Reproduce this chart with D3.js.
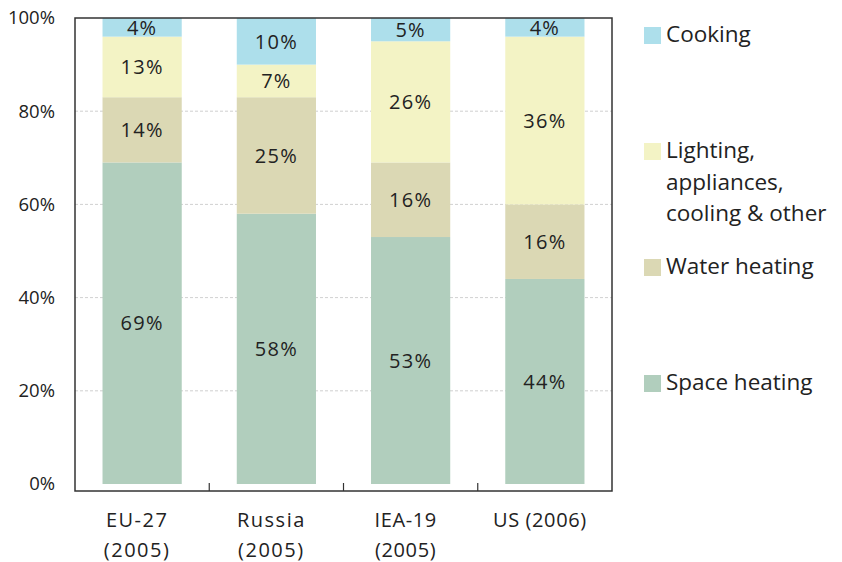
<!DOCTYPE html>
<html lang="en">
<head>
  <meta charset="utf-8" />
  <title>Residential energy end-use shares</title>
  <style>
    body {
      margin: 0;
      background: #ffffff;
      font-family: 'Open Sans', 'Noto Sans', sans-serif;
    }
    svg { display: block; }
    .grid line {
      stroke: #c4c4c4;
      stroke-dasharray: 3,2;
      stroke-width: 0.8px;
    }
    .tick-label, .cat-label, .seg-label, .legend text {
      fill: #222;
    }
  </style>
</head>
<body>
<div id="chart"></div>
<script src="https://d3js.org/d3.v7.min.js"></script>
<script>
// ---------------- data ----------------
const categories = ["EU-27 (2005)", "Russia (2005)", "IEA-19 (2005)", "US (2006)"];
const categoryLines = [["EU-27", "(2005)"], ["Russia", "(2005)"], ["IEA-19", "(2005)"], ["US (2006)"]];
const series = ["Space heating", "Water heating", "Lighting, appliances, cooling & other", "Cooking"];
const spaceHeating = [69, 58, 53, 44];
const waterHeating = [14, 25, 16, 16];
const lighting     = [13, 7, 26, 36];
const cooking      = [4, 10, 5, 4];
const yTicks = [0, 20, 40, 60, 80, 100];

const colors = ["#b1cebd", "#dbd8b4", "#f3f3c5", "#addfeb"];

// ---------------- layout ----------------
const width = 842, height = 562;
const left = 75, right = 612, y0 = 484, y100 = 18, frameBottom = 491;

const svg = d3.select("#chart").append("svg")
  .attr("width", width)
  .attr("height", height);

const x = d3.scaleBand()
  .domain(categories)
  .range([left, right])
  .paddingInner(0.41)
  .paddingOuter(0.205);

const y = d3.scaleLinear().domain([0, 100]).range([y0, y100]);

// gridlines
svg.append("g").attr("class", "grid")
  .selectAll("line")
  .data(yTicks.filter(t => t > 0 && t < 100))
  .join("line")
  .attr("x1", left).attr("x2", right)
  .attr("y1", d => y(d)).attr("y2", d => y(d));

// stacked data
const rows = categories.map((c, i) => ({
  cat: c,
  "Space heating": spaceHeating[i],
  "Water heating": waterHeating[i],
  "Lighting, appliances, cooling & other": lighting[i],
  "Cooking": cooking[i]
}));
const stacked = d3.stack().keys(series)(rows);

const layers = svg.append("g").selectAll("g")
  .data(stacked)
  .join("g")
  .attr("fill", (d, i) => colors[i]);

layers.selectAll("rect")
  .data(d => d)
  .join("rect")
  .attr("x", d => x(d.data.cat))
  .attr("width", x.bandwidth())
  .attr("y", d => y(d[1]))
  .attr("height", d => y(d[0]) - y(d[1]));

layers.selectAll("text")
  .data(d => d)
  .join("text")
  .attr("class", "seg-label")
  .attr("x", d => x(d.data.cat) + x.bandwidth() / 2)
  .attr("y", d => (y(d[0]) + y(d[1])) / 2)
  .attr("dy", "0.36em")
  .attr("text-anchor", "middle")
  .style("font-size", "20px")
  .style("letter-spacing", "1.2px")
  .text(d => (d[1] - d[0]) + "%");

// frame
svg.append("rect")
  .attr("x", left).attr("y", y100)
  .attr("width", right - left).attr("height", frameBottom - y100)
  .attr("fill", "none")
  .attr("stroke", "#333")
  .attr("stroke-width", 1.5);

// bottom ticks at band boundaries (pointing up)
const step = x.step();
svg.append("g").selectAll("line")
  .data(d3.range(1, categories.length))
  .join("line")
  .attr("x1", i => left + i * step).attr("x2", i => left + i * step)
  .attr("y1", frameBottom).attr("y2", frameBottom - 8)
  .attr("stroke", "#333").attr("stroke-width", 1.2);

// y axis labels
const yAxis = d3.axisLeft(y).tickValues(yTicks).tickFormat(d => d + "%").tickSize(0).tickPadding(0);
const yG = svg.append("g").attr("transform", `translate(55,0)`).call(yAxis);
yG.select(".domain").remove();
yG.selectAll("text")
  .attr("class", "tick-label")
  .attr("fill", "#222")
  .style("font-family", "'Open Sans', sans-serif")
  .style("font-size", "18.5px");

// category labels
const catG = svg.append("g").selectAll("text")
  .data(categories)
  .join("text")
  .attr("class", "cat-label")
  .attr("text-anchor", "middle")
  .style("font-size", "20px")
  .style("letter-spacing", (d, i) => i < 2 ? "1.5px" : "0.6px");

catG.selectAll("tspan")
  .data((d, i) => categoryLines[i].map(t => ({ t, c: d })))
  .join("tspan")
  .attr("x", d => x(d.c) + x.bandwidth() / 2 - 5)
  .attr("y", (d, j) => 527 + j * 30)
  .text(d => d.t);

// legend
const legendItems = [
  { key: "Cooking", lines: ["Cooking"], y: 27 },
  { key: "Lighting", lines: ["Lighting,", "appliances,", "cooling & other"], y: 143 },
  { key: "Water heating", lines: ["Water heating"], y: 259 },
  { key: "Space heating", lines: ["Space heating"], y: 375 }
];
const legendColors = [colors[3], colors[2], colors[1], colors[0]];

const lg = svg.append("g").attr("class", "legend")
  .selectAll("g")
  .data(legendItems)
  .join("g");

lg.append("rect")
  .attr("x", 644).attr("y", d => d.y)
  .attr("width", 17).attr("height", 17)
  .attr("fill", (d, i) => legendColors[i]);

lg.append("text")
  .style("font-size", "22.5px")
  .selectAll("tspan")
  .data(d => d.lines.map((t, j) => ({ t, j, y: d.y })))
  .join("tspan")
  .attr("x", 666)
  .attr("y", d => d.y + 15 + d.j * 31.5)
  .text(d => d.t);
</script>
</body>
</html>
